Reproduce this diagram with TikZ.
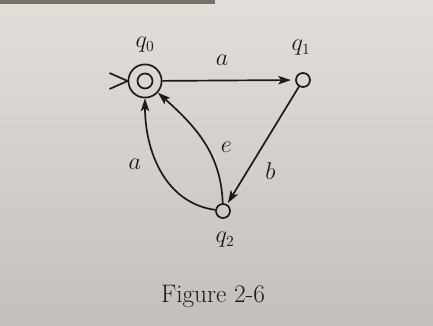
\documentclass[tikz,border=0pt]{standalone}
\usetikzlibrary{arrows.meta}
\definecolor{pageTop}{RGB}{226,223,219}
\definecolor{pageBottom}{RGB}{196,191,186}
\definecolor{pageEdge}{RGB}{120,112,104}
\definecolor{inkBlack}{RGB}{28,26,26}

\begin{document}
\begin{tikzpicture}[x=0.025cm, y=0.025cm, every node/.style={font=\fontsize{16}{18}\selectfont, text=inkBlack},
    state/.style={circle, draw=inkBlack, line width=1.2pt, minimum size=0.35cm, inner sep=0pt},
    edge/.style={draw=inkBlack, line width=1.2pt, -{Stealth[length=9pt, width=6pt, inset=2pt]}}]
            % page
            \shade[top color=pageTop, bottom color=pageBottom] (0,0) rectangle (433,326);
            \fill[pageEdge] (0,322) rectangle (215,326);
            % states
            \node[state, minimum size=0.83cm] (q0) at (145,245) {};
            \draw[inkBlack, line width=1.2pt] (q0) circle[radius=7.5];
            \node[state] (q1) at (303,246) {};
            \node[state] (q2) at (223,115) {};
            \node (q0name) at (145,281) {$q_0$};
            \node (q1name) at (301,278) {$q_1$};
            \node (q2name) at (225,86) {$q_2$};
            % start
            \draw[inkBlack, line width=1.2pt] (q0.west) -- ++(-18,8);
            \draw[inkBlack, line width=1.2pt] (q0.west) -- ++(-18,-8);
            % transitions
            \draw[edge, shorten >=3pt] (q0) -- node[pos=0.45, above=7pt] {$a$} (q1);
            \draw[edge, shorten >=1pt] (q1) -- node[pos=0.72, right=9pt] {$b$} (q2);
            \draw[edge] (q2) to[out=92, in=-42] node[pos=0.45, right=6pt] {$e$} (q0);
            \draw[edge] (q2) to[out=172, in=-90] node[pos=0.55, left=8pt] {$a$} (q0);
            \node (caption) at (213,30) {\fontsize{18}{20}\selectfont Figure 2-6};
        \end{tikzpicture}
\end{document}
